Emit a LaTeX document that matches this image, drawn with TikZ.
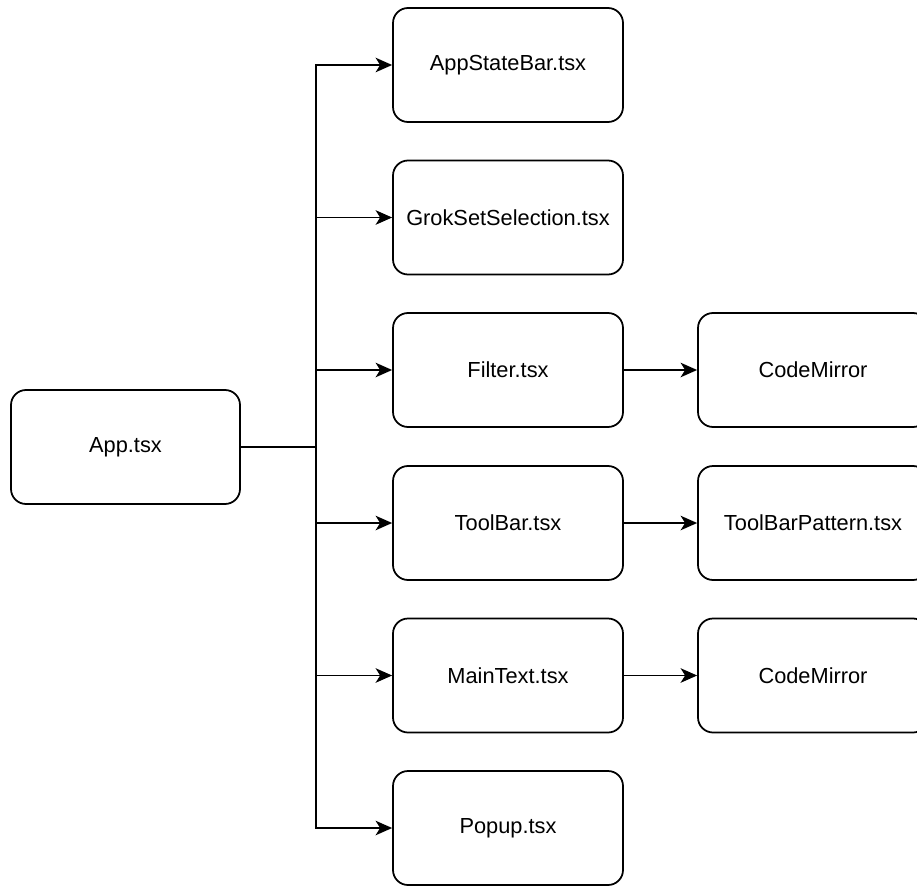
\documentclass[tikz,border=0pt]{standalone}
\usepackage{fontspec}
\setmainfont{Liberation Sans}
\usetikzlibrary{arrows.meta,positioning}

\begin{document}
\begin{tikzpicture}[
  >={Stealth[length=3.3mm,width=2.9mm,inset=0.9mm]},
  comp/.style={rectangle,draw,rounded corners=3mm,line width=1pt,
    minimum width=4.6cm,minimum height=2.28cm,inner sep=2pt,
    font=\fontsize{12.4}{15}\selectfont},
  link/.style={line width=1pt},
  arr/.style={link,->}
]

% page size of the screenshot (right column and bottom box are cut off)
\clip (0,0) rectangle (18.34,-17.7);

% ===================== LEFT: root =====================
\node[comp,minimum width=4.58cm] (app) at (2.51,-8.94) {App.tsx};

% ===================== MIDDLE: children =====================
\node[comp] (stbar)  at (10.16,-1.30)  {AppStateBar.tsx};
\node[comp] (grok)   at (10.16,-4.35)  {GrokSetSelection.tsx};
\node[comp] (filter) at (10.16,-7.40)  {Filter.tsx};
\node[comp] (tbar)   at (10.16,-10.46) {ToolBar.tsx};
\node[comp] (mtext)  at (10.16,-13.51) {MainText.tsx};
\node[comp] (popup)  at (10.16,-16.56) {Popup.tsx};

% ===================== RIGHT: grandchildren =====================
\node[comp] (cm1)   at (16.26,-7.40)  {CodeMirror};
\node[comp] (tbpat) at (16.26,-10.46) {ToolBarPattern.tsx};
\node[comp] (cm2)   at (16.26,-13.51) {CodeMirror};

% trunk
\coordinate (trunk) at (6.32,-8.94);

% edges
\foreach \c in {stbar,grok,filter,tbar,mtext,popup}
  \draw[arr] (app.east) -- (trunk) |- (\c.west);

\draw[arr] (filter) -- (cm1);
\draw[arr] (tbar) -- (tbpat);
\draw[arr] (mtext) -- (cm2);

\end{tikzpicture}
\end{document}
